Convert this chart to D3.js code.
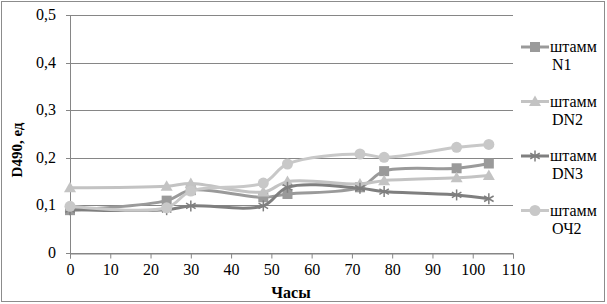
<html>
  <script src="https://d3js.org/d3.v7.min.js"></script>
  <style>
    body { margin: 0; background: #fff; }
    svg text { font-family: "Liberation Serif", "Tinos", "Times New Roman", "DejaVu Serif", serif; fill: #000; }
  </style>
  <body>
    <svg width="607" height="304"></svg>
    <script>
      var hours = [0, 24, 30, 48, 54, 72, 78, 96, 104];
      var n1 = [0.09, 0.11, 0.132, 0.117, 0.124, 0.138, 0.172, 0.178, 0.188];
      var dn2 = [0.137, 0.14, 0.146, 0.128, 0.15, 0.145, 0.152, 0.158, 0.163];
      var dn3 = [0.091, 0.091, 0.099, 0.099, 0.138, 0.136, 0.129, 0.122, 0.114];
      var och2 = [0.098, 0.095, 0.13, 0.147, 0.187, 0.208, 0.201, 0.222, 0.228];
      var seriesNames = ["штамм N1", "штамм DN2", "штамм DN3", "штамм ОЧ2"];
      var xTicks = [0, 10, 20, 30, 40, 50, 60, 70, 80, 90, 100, 110];
      var yTicks = [0, 0.1, 0.2, 0.3, 0.4, 0.5];

      var series = [
        { name: seriesNames[0], values: n1, color: "#9a9a9a", marker: "square" },
        { name: seriesNames[1], values: dn2, color: "#c3c3c3", marker: "triangle" },
        { name: seriesNames[2], values: dn3, color: "#7f7f7f", marker: "star" },
        { name: seriesNames[3], values: och2, color: "#c8c8c8", marker: "circle" }
      ];

      var svg = d3.select("svg");

      // outer frame
      svg.append("rect")
        .attr("x", 1.5).attr("y", 1.5)
        .attr("width", 603).attr("height", 300)
        .attr("fill", "none").attr("stroke", "#8c8c8c").attr("stroke-width", 1);

      var x = d3.scaleLinear().domain([0, 110]).range([70, 513]);
      var y = d3.scaleLinear().domain([0, 0.5]).range([253, 15]);
      var fmt = function (d) { return d3.format("")(d).replace(".", ","); };

      // gridlines
      svg.append("g")
        .selectAll("line")
        .data(yTicks)
        .enter()
        .append("line")
        .attr("x1", 66).attr("x2", 513)
        .attr("y1", function (d) { return Math.round(y(d)) + 0.5; })
        .attr("y2", function (d) { return Math.round(y(d)) + 0.5; })
        .attr("stroke", "#868686").attr("stroke-width", 1);

      // y axis line
      svg.append("line")
        .attr("x1", 70.5).attr("x2", 70.5)
        .attr("y1", y(0.5)).attr("y2", y(0))
        .attr("stroke", "#868686");

      // y tick labels
      svg.append("g")
        .selectAll("text")
        .data(yTicks)
        .enter()
        .append("text")
        .attr("x", 56)
        .attr("y", function (d) { return y(d) + 5; })
        .attr("text-anchor", "end")
        .style("font-size", "16px")
        .text(fmt);

      // x axis
      var xAxis = svg.append("g")
        .attr("transform", "translate(0," + (Math.round(y(0)) + 0.5) + ")")
        .call(d3.axisBottom(x).tickValues(xTicks).tickSize(5).tickFormat(d3.format("d")));
      xAxis.attr("font-family", null);
      xAxis.select(".domain").attr("stroke", "#868686");
      xAxis.selectAll(".tick line").attr("stroke", "#868686");
      xAxis.selectAll(".tick text")
        .attr("y", 10)
        .style("font-size", "16px")
        .attr("fill", "#000");

      // axis titles
      svg.append("text")
        .attr("x", 291).attr("y", 298)
        .attr("text-anchor", "middle")
        .style("font-size", "16px").style("font-weight", "bold")
        .text("Часы");
      svg.append("text")
        .attr("transform", "translate(22,150) rotate(-90)")
        .attr("text-anchor", "middle")
        .style("font-size", "15px").style("font-weight", "bold")
        .text("D490, ед");

      var line = d3.line()
        .x(function (d, i) { return x(hours[i]); })
        .y(function (d) { return y(d); })
        .curve(d3.curveCatmullRom.alpha(0.5));

      function drawMarker(g, type, cx, cy, color) {
        if (type == "square") {
          g.append("rect").attr("x", cx - 5).attr("y", cy - 5)
            .attr("width", 10).attr("height", 10).attr("fill", color);
        } else if (type == "triangle") {
          g.append("path")
            .attr("d", "M" + cx + "," + (cy - 6) + "L" + (cx + 6) + "," + (cy + 4.5) + "L" + (cx - 6) + "," + (cy + 4.5) + "Z")
            .attr("fill", color);
        } else if (type == "circle") {
          g.append("circle").attr("cx", cx).attr("cy", cy).attr("r", 5.5).attr("fill", color);
        } else {
          var r = 5.5;
          [0, 60, 120].forEach(function (a) {
            var rad = (a + 90) * Math.PI / 180;
            g.append("line")
              .attr("x1", cx - r * Math.cos(rad)).attr("y1", cy - r * Math.sin(rad))
              .attr("x2", cx + r * Math.cos(rad)).attr("y2", cy + r * Math.sin(rad))
              .attr("stroke", color).attr("stroke-width", 1.5);
          });
        }
      }

      series.forEach(function (s) {
        var g = svg.append("g");
        g.append("path")
          .datum(s.values)
          .attr("d", line)
          .attr("fill", "none")
          .attr("stroke", s.color)
          .attr("stroke-width", 3);
        s.values.forEach(function (v, i) {
          drawMarker(g, s.marker, x(hours[i]), y(v), s.color);
        });
      });

      // legend
      series.forEach(function (s, i) {
        var ly = 47 + i * 54.5;
        var g = svg.append("g");
        g.append("line")
          .attr("x1", 521).attr("x2", 549)
          .attr("y1", ly).attr("y2", ly)
          .attr("stroke", s.color).attr("stroke-width", 3);
        drawMarker(g, s.marker, 535, ly, s.color);
        var parts = s.name.split(" ");
        g.append("text").attr("x", 550).attr("y", ly + 5)
          .style("font-size", "16px").text(parts[0]);
        g.append("text").attr("x", 552).attr("y", ly + 23)
          .style("font-size", "16px").text(parts[1]);
      });
    </script>
  </body>
</html>
